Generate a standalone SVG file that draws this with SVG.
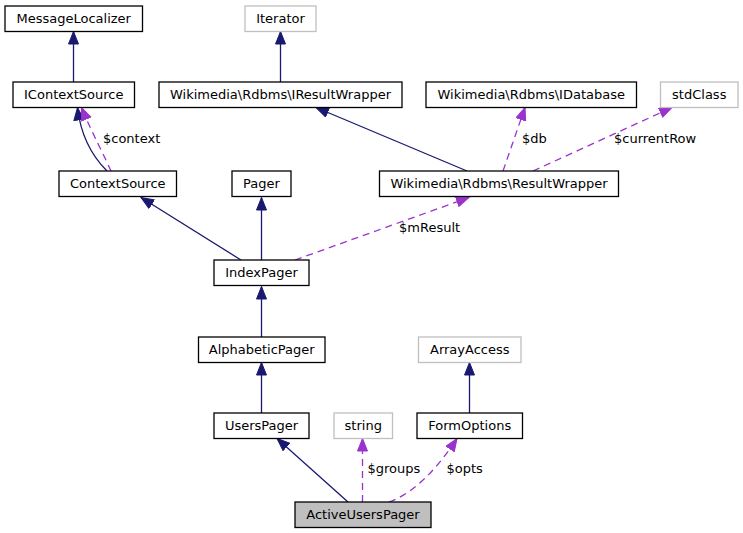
<svg xmlns="http://www.w3.org/2000/svg" width="743" height="533" viewBox="0 0 743 533">
<style>
text{font-family:"DejaVu Sans",sans-serif;font-size:13px;fill:#000}
.n rect{fill:#fff;stroke:#000;stroke-width:1.3}
.x rect{fill:#fff;stroke:#bfbfbf;stroke-width:1.3}
.n text,.x text{text-anchor:middle}
.e{fill:none;stroke:#191970;stroke-width:1.3;marker-end:url(#ab)}
.u{fill:none;stroke:#9a32cd;stroke-width:1.3;stroke-dasharray:7,5;marker-end:url(#ap)}
</style>
<defs>
<marker id="ab" markerWidth="14" markerHeight="12" refX="13" refY="5.5" orient="auto" markerUnits="userSpaceOnUse"><path d="M0.5,0.5 L13,5.5 L0.5,10.5 z" fill="#191970" stroke="#191970" stroke-width="1"/></marker>
<marker id="ap" markerWidth="14" markerHeight="12" refX="13" refY="5.5" orient="auto" markerUnits="userSpaceOnUse"><path d="M0.5,0.5 L13,5.5 L0.5,10.5 z" fill="#9a32cd" stroke="#9a32cd" stroke-width="1"/></marker>
</defs>
<rect width="743" height="533" fill="#fff"/>
<g id="edges">
<path class="e" d="M73.5,82 L73.5,31.5"/>
<path class="e" d="M280.5,82 L280.5,31.5"/>
<path class="e" d="M107,171 C93,157 81,138 77.5,107.5"/>
<path class="u" d="M111,171 C104,155 92,133 81.5,107.5"/>
<path class="e" d="M241,260 L141,197.5"/>
<path class="e" d="M261.5,260 L261.5,197.5"/>
<path class="e" d="M467,171 L316,107.5"/>
<path class="u" d="M503,171 L525,107.5"/>
<path class="u" d="M533,171 L672,107.5"/>
<path class="u" d="M295,260 L469,197.5"/>
<path class="e" d="M261.5,337 L261.5,286.5"/>
<path class="e" d="M261.5,413 L261.5,362.5"/>
<path class="e" d="M469.5,413 L469.5,362.5"/>
<path class="e" d="M348,502 L277,438.5"/>
<path class="u" d="M362.5,502 L362.5,438.5"/>
<path class="u" d="M389,502 Q423,490 457,438.5"/>
<text x="103" y="143">$context</text>
<text x="522" y="143">$db</text>
<text x="614" y="143">$currentRow</text>
<text x="399" y="232">$mResult</text>
<text x="367.5" y="473">$groups</text>
<text x="446.5" y="473">$opts</text>
</g>
<g id="MessageLocalizer" class="n"><rect x="5" y="6" width="137.5" height="25.5"/><text x="73.75" y="22.5">MessageLocalizer</text></g>
<g id="Iterator" class="x"><rect x="245" y="6" width="71" height="25.5"/><text x="280.5" y="22.5">Iterator</text></g>
<g id="IContextSource" class="n"><rect x="13" y="82" width="121.5" height="25.5"/><text x="73.75" y="98.5">IContextSource</text></g>
<g id="IResultWrapper" class="n"><rect x="159" y="82" width="243" height="25.5"/><text x="280.5" y="98.5">Wikimedia\Rdbms\IResultWrapper</text></g>
<g id="IDatabase" class="n"><rect x="426" y="82" width="210.5" height="25.5"/><text x="531.25" y="98.5">Wikimedia\Rdbms\IDatabase</text></g>
<g id="stdClass" class="x"><rect x="660.5" y="82" width="77.5" height="25.5"/><text x="699.25" y="98.5">stdClass</text></g>
<g id="ContextSource" class="n"><rect x="59" y="171" width="117.5" height="25.5"/><text x="117.75" y="187.5">ContextSource</text></g>
<g id="Pager" class="n"><rect x="232" y="171" width="59" height="25.5"/><text x="261.5" y="187.5">Pager</text></g>
<g id="ResultWrapper" class="n"><rect x="379.5" y="171" width="239" height="25.5"/><text x="499" y="187.5">Wikimedia\Rdbms\ResultWrapper</text></g>
<g id="IndexPager" class="n"><rect x="214" y="260" width="95" height="25.5"/><text x="261.5" y="276.5">IndexPager</text></g>
<g id="AlphabeticPager" class="n"><rect x="198.5" y="337" width="126.5" height="25.5"/><text x="261.75" y="353.5">AlphabeticPager</text></g>
<g id="ArrayAccess" class="x"><rect x="418.5" y="337" width="102.5" height="25.5"/><text x="469.75" y="353.5">ArrayAccess</text></g>
<g id="UsersPager" class="n"><rect x="214" y="413" width="95" height="25.5"/><text x="261.5" y="429.5">UsersPager</text></g>
<g id="string" class="x"><rect x="334" y="413" width="58.5" height="25.5"/><text x="363.25" y="429.5">string</text></g>
<g id="FormOptions" class="n"><rect x="417" y="413" width="105.5" height="25.5"/><text x="469.75" y="429.5">FormOptions</text></g>
<g id="ActiveUsersPager" class="n"><rect x="295" y="502" width="136" height="25.5" style="fill:#bfbfbf"/><text x="363" y="518.5">ActiveUsersPager</text></g>
</svg>
